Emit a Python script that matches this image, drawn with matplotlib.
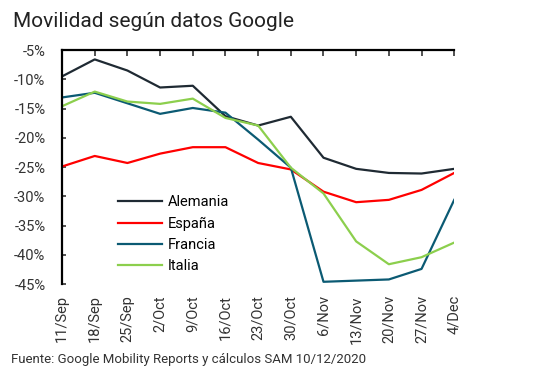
import matplotlib
matplotlib.use("Agg")
import matplotlib.pyplot as plt
from matplotlib.ticker import FuncFormatter

plt.rcParams['font.family'] = ['Roboto', 'DejaVu Sans']

fechas = ['11/Sep', '18/Sep', '25/Sep', '2/Oct', '9/Oct', '16/Oct', '23/Oct',
          '30/Oct', '6/Nov', '13/Nov', '20/Nov', '27/Nov', '4/Dec']
alemania = [-9.5, -6.6, -8.5, -11.4, -11.1, -16.3, -17.9, -16.4, -23.4, -25.3, -26.0, -26.1, -25.3]
espana = [-24.9, -23.1, -24.3, -22.7, -21.6, -21.6, -24.3, -25.4, -29.2, -31.0, -30.6, -28.9, -26.0]
francia = [-13.1, -12.3, -14.1, -15.9, -14.9, -15.7, -20.3, -25.1, -44.6, -44.4, -44.2, -42.4, -30.6]
italia = [-14.6, -12.1, -13.8, -14.2, -13.3, -16.6, -17.9, -25.1, -29.5, -37.7, -41.6, -40.4, -37.9]

series = [('Alemania', alemania, '#1f2a33'),
          ('España', espana, '#ff0000'),
          ('Francia', francia, '#0b5a73'),
          ('Italia', italia, '#8ccf4d')]

fig = plt.figure(figsize=(5.35, 3.85), dpi=100)
ax = fig.add_axes([0.116, 0.262, 0.733, 0.608])

x = range(len(fechas))
for nombre, vals, color in series:
    ax.plot(x, vals, color=color, lw=1.6, label=nombre)

ax.set_xlim(0, len(fechas) - 1)
ax.set_ylim(-45, -5)
ax.set_yticks(range(-45, -4, 5))
ax.yaxis.set_major_formatter(FuncFormatter(lambda v, p: f'{int(v)}%'))
ax.set_xticks(list(x))
ax.set_xticklabels(fechas, rotation=90)

for s in ['right', 'bottom']:
    ax.spines[s].set_visible(False)
ax.spines['top'].set_linewidth(1.6)
ax.spines['left'].set_linewidth(1.6)
ax.tick_params(axis='x', top=True, bottom=False, labeltop=False, labelbottom=True,
               direction='in', length=4, width=1.2, labelsize=10.5, colors='#333333', pad=8)
ax.tick_params(axis='y', direction='in', length=3, width=1.2, labelsize=10.5,
               colors='#333333', pad=12)
for lab in ax.get_xticklabels() + ax.get_yticklabels():
    lab.set_color('#333333')

ax.legend(loc='lower left', bbox_to_anchor=(0.11, -0.01), frameon=False,
          fontsize=10.5, handlelength=3.0, labelspacing=0.5, handletextpad=0.4)

fig.text(0.025, 0.945, 'Movilidad según datos Google', fontsize=15, color='#222222',
         va='center', ha='left')
fig.text(0.02, 0.065, 'Fuente: Google Mobility Reports y cálculos SAM 10/12/2020',
         fontsize=9.5, color='#333333', va='center', ha='left')

fig.savefig('out.png', dpi=100)
